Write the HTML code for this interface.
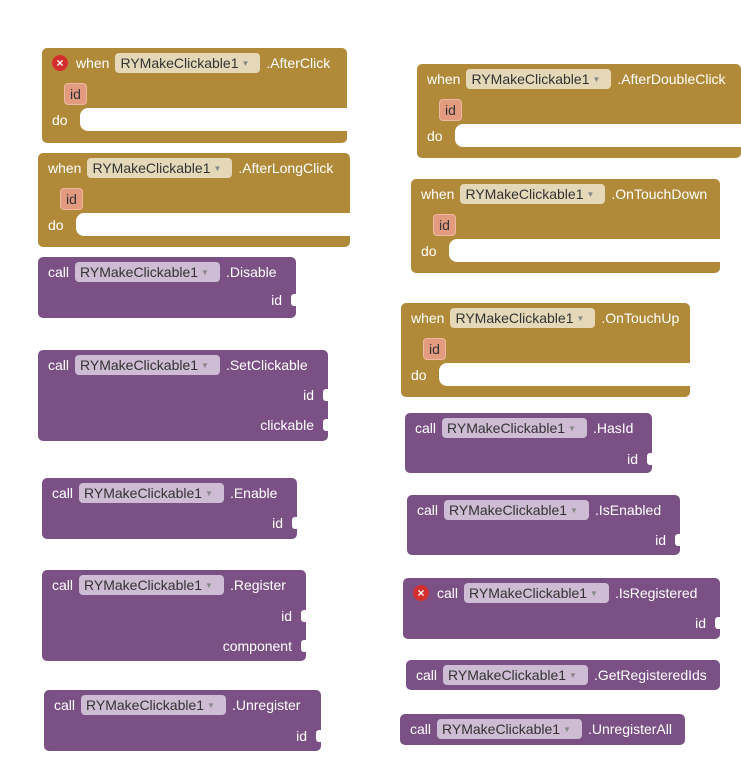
<!DOCTYPE html>
<html><head><meta charset="utf-8"><style>
body{margin:0;width:741px;height:776px;background:#fff;position:relative;overflow:hidden;font-family:"Liberation Sans",sans-serif;font-size:14px;color:#fff}
.b{position:absolute;border-radius:5px}
.g{background:#b08a38}
.p{background:#7b5185}
.hd{position:absolute;left:10px;top:5px;height:20px;display:flex;align-items:center;white-space:nowrap}
.hd span{margin-right:6px}
.pill{color:#333;border-radius:4px;padding:0 5px;height:20px;line-height:20px;display:inline-block}
.g .pill{background:#e4d8b8}
.p .pill{background:#cdbcd3}
.ar{font-size:8px;color:#888;margin-left:3px;vertical-align:2px}
.id{position:absolute;left:22px;top:35px;background:#e39b80;color:#333;border-radius:4px;padding:0 5px;height:20px;line-height:20px;border:1px solid #f0b8a0}
.do{position:absolute;left:10px;top:62px;line-height:20px}
.slot{position:absolute;left:38px;top:60px;right:0;height:23px;background:#fff;border-radius:8px 0 0 8px}
.in{position:absolute;right:14px;line-height:20px}
.nt{position:absolute;right:0;width:5px;height:12px;background:#fff;border-radius:3px 0 0 3px}
.err{display:inline-block;width:16px;height:16px;border-radius:50%;background:#d32f2f;color:#fff;font-size:12px;line-height:16px;text-align:center;margin-right:8px!important;font-weight:bold}
</style></head><body>

<!-- left column -->
<div class="b g" style="left:42px;top:48px;width:305px;height:95px">
<div class="hd"><span class="err">×</span><span>when</span><span class="pill">RYMakeClickable1<span class="ar">▼</span></span><span>.AfterClick</span></div>
<div class="id">id</div><div class="do">do</div><div class="slot"></div></div>

<div class="b g" style="left:38px;top:153px;width:312px;height:94px">
<div class="hd"><span>when</span><span class="pill">RYMakeClickable1<span class="ar">▼</span></span><span>.AfterLongClick</span></div>
<div class="id">id</div><div class="do">do</div><div class="slot"></div></div>

<div class="b p" style="left:38px;top:257px;width:258px;height:61px">
<div class="hd"><span>call</span><span class="pill">RYMakeClickable1<span class="ar">▼</span></span><span>.Disable</span></div>
<div class="in" style="top:33px">id</div><div class="nt" style="top:37px"></div></div>

<div class="b p" style="left:38px;top:350px;width:290px;height:91px">
<div class="hd"><span>call</span><span class="pill">RYMakeClickable1<span class="ar">▼</span></span><span>.SetClickable</span></div>
<div class="in" style="top:35px">id</div><div class="nt" style="top:39px"></div>
<div class="in" style="top:65px">clickable</div><div class="nt" style="top:69px"></div></div>

<div class="b p" style="left:42px;top:478px;width:255px;height:61px">
<div class="hd"><span>call</span><span class="pill">RYMakeClickable1<span class="ar">▼</span></span><span>.Enable</span></div>
<div class="in" style="top:35px">id</div><div class="nt" style="top:39px"></div></div>

<div class="b p" style="left:42px;top:570px;width:264px;height:91px">
<div class="hd"><span>call</span><span class="pill">RYMakeClickable1<span class="ar">▼</span></span><span>.Register</span></div>
<div class="in" style="top:36px">id</div><div class="nt" style="top:40px"></div>
<div class="in" style="top:66px">component</div><div class="nt" style="top:70px"></div></div>

<div class="b p" style="left:44px;top:690px;width:277px;height:61px">
<div class="hd"><span>call</span><span class="pill">RYMakeClickable1<span class="ar">▼</span></span><span>.Unregister</span></div>
<div class="in" style="top:36px">id</div><div class="nt" style="top:40px"></div></div>

<!-- right column -->
<div class="b g" style="left:417px;top:64px;width:324px;height:94px">
<div class="hd"><span>when</span><span class="pill">RYMakeClickable1<span class="ar">▼</span></span><span>.AfterDoubleClick</span></div>
<div class="id">id</div><div class="do">do</div><div class="slot"></div></div>

<div class="b g" style="left:411px;top:179px;width:309px;height:94px">
<div class="hd"><span>when</span><span class="pill">RYMakeClickable1<span class="ar">▼</span></span><span>.OnTouchDown</span></div>
<div class="id">id</div><div class="do">do</div><div class="slot"></div></div>

<div class="b g" style="left:401px;top:303px;width:289px;height:94px">
<div class="hd"><span>when</span><span class="pill">RYMakeClickable1<span class="ar">▼</span></span><span>.OnTouchUp</span></div>
<div class="id">id</div><div class="do">do</div><div class="slot"></div></div>

<div class="b p" style="left:405px;top:413px;width:247px;height:60px">
<div class="hd"><span>call</span><span class="pill">RYMakeClickable1<span class="ar">▼</span></span><span>.HasId</span></div>
<div class="in" style="top:36px">id</div><div class="nt" style="top:40px"></div></div>

<div class="b p" style="left:407px;top:495px;width:273px;height:60px">
<div class="hd"><span>call</span><span class="pill">RYMakeClickable1<span class="ar">▼</span></span><span>.IsEnabled</span></div>
<div class="in" style="top:35px">id</div><div class="nt" style="top:39px"></div></div>

<div class="b p" style="left:403px;top:578px;width:317px;height:61px">
<div class="hd"><span class="err">×</span><span>call</span><span class="pill">RYMakeClickable1<span class="ar">▼</span></span><span>.IsRegistered</span></div>
<div class="in" style="top:35px">id</div><div class="nt" style="top:39px"></div></div>

<div class="b p" style="left:406px;top:660px;width:314px;height:30px">
<div class="hd"><span>call</span><span class="pill">RYMakeClickable1<span class="ar">▼</span></span><span>.GetRegisteredIds</span></div></div>

<div class="b p" style="left:400px;top:714px;width:285px;height:31px">
<div class="hd"><span>call</span><span class="pill">RYMakeClickable1<span class="ar">▼</span></span><span>.UnregisterAll</span></div></div>

</body></html>
